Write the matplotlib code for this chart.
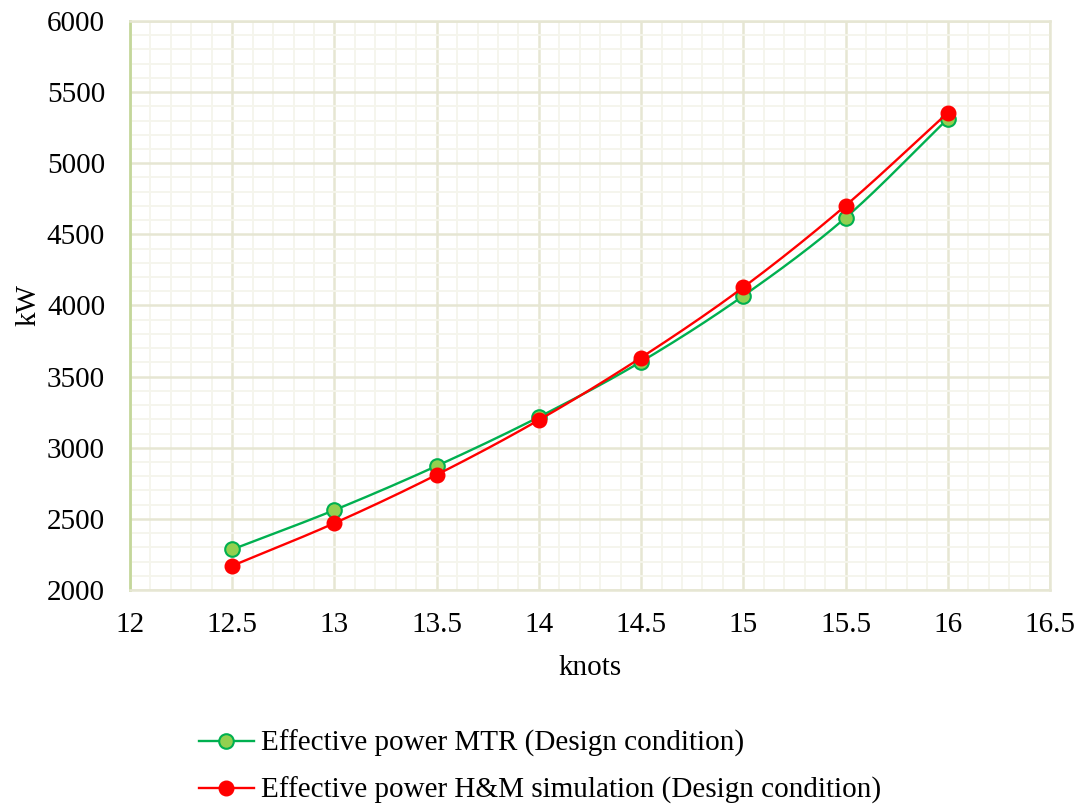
import numpy as np
import matplotlib.pyplot as plt
from matplotlib.ticker import MultipleLocator

plt.rcParams['font.family'] = ['Liberation Serif', 'DejaVu Serif']

knots = [12.5, 13, 13.5, 14, 14.5, 15, 15.5, 16]
mtr = [2285, 2562, 2872, 3216, 3605, 4068, 4617, 5312]
hm = [2170, 2470, 2810, 3195, 3634, 4128, 4702, 5355]

labels = ['Effective power MTR (Design condition)',
          'Effective power H&M simulation (Design condition)']


def smooth(x, y, n=30):
    # catmull-rom like the excel "smoothed line"
    x = np.asarray(x, float)
    y = np.asarray(y, float)
    px = np.concatenate([[2 * x[0] - x[1]], x, [2 * x[-1] - x[-2]]])
    py = np.concatenate([[2 * y[0] - y[1]], y, [2 * y[-1] - y[-2]]])
    xs, ys = [], []
    t = np.linspace(0, 1, n)
    for i in range(1, len(px) - 2):
        for p, out in ((px, xs), (py, ys)):
            p0, p1, p2, p3 = p[i - 1], p[i], p[i + 1], p[i + 2]
            out.extend(0.5 * ((2 * p1) + (-p0 + p2) * t
                              + (2 * p0 - 5 * p1 + 4 * p2 - p3) * t ** 2
                              + (-p0 + 3 * p1 - 3 * p2 + p3) * t ** 3))
    return xs, ys


fig = plt.figure(figsize=(10.8, 8.05), dpi=100)
ax = fig.add_axes([0.1204, 0.2671, 0.8518, 0.7068])

green_line = '#00b050'
red = '#ff0000'

sx, sy = smooth(knots, mtr)
ax.plot(sx, sy, color=green_line, lw=1.7, zorder=3)
ax.plot(knots, mtr, 'o', ms=10.5, mfc='#92d050', mec=green_line, mew=1.5, zorder=4)
hx, hy = smooth(knots, hm)
ax.plot(hx, hy, color=red, lw=1.7, zorder=5)
ax.plot(knots, hm, 'o', ms=10.5, mfc=red, mec=red, zorder=6)

ax.set_xlim(12, 16.5)
ax.set_ylim(2000, 6000)
ax.xaxis.set_major_locator(MultipleLocator(0.5))
ax.xaxis.set_minor_locator(MultipleLocator(0.1))
ax.yaxis.set_major_locator(MultipleLocator(500))
ax.yaxis.set_minor_locator(MultipleLocator(100))
ax.xaxis.set_major_formatter(plt.FuncFormatter(lambda v, p: f'{v:g}'))

ax.grid(which='major', color='#e6e6d3', lw=1.8)
ax.grid(which='minor', color='#f5f5ec', lw=1.3)
ax.set_axisbelow(True)
ax.tick_params(which='both', length=0, labelsize=21)
ax.tick_params(axis='y', pad=18)
ax.tick_params(axis='x', pad=16)

for s in ['top', 'right', 'bottom']:
    ax.spines[s].set_color('#e6e6d3')
    ax.spines[s].set_linewidth(1.8)
ax.spines['left'].set_color('#c4d79b')
ax.spines['left'].set_linewidth(2)

ax.set_xlabel('knots', fontsize=21, labelpad=12)
ax.set_ylabel('kW', fontsize=21, labelpad=4)

h1 = plt.Line2D([], [], color=green_line, lw=1.7, marker='o', ms=10.5,
                mfc='#92d050', mec=green_line, mew=1.5)
h2 = plt.Line2D([], [], color=red, lw=1.7, marker='o', ms=10.5, mfc=red, mec=red)
fig.legend([h1, h2], labels, loc='center', bbox_to_anchor=(0.5, 0.047),
           frameon=False, fontsize=21, handlelength=1.9, handletextpad=0.25,
           labelspacing=0.68)

fig.savefig('out.png', dpi=100)
